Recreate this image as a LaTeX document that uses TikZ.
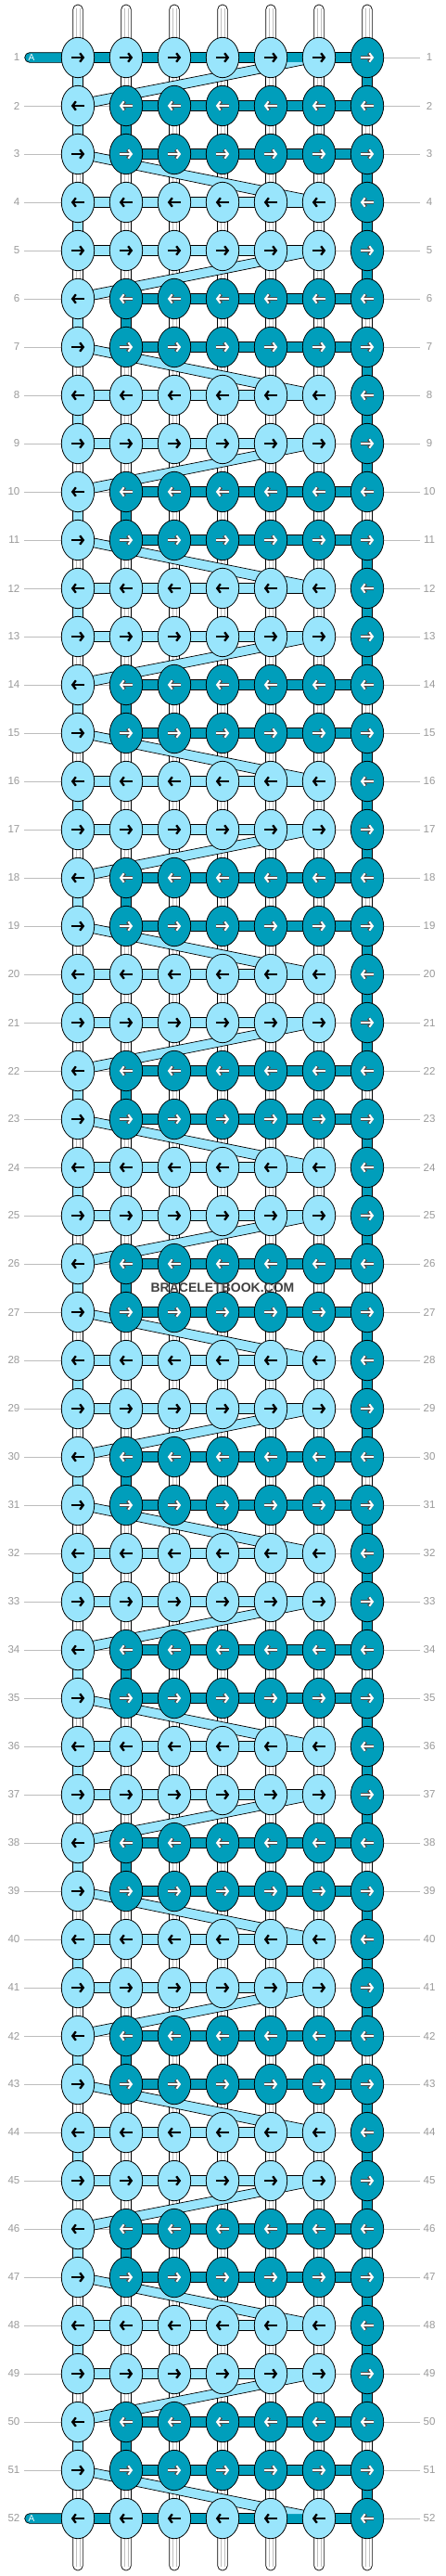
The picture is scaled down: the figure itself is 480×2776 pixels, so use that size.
\documentclass[tikz,border=0pt]{standalone}
\usepackage{fontspec}
\setmainfont{Liberation Sans}
\usetikzlibrary{shapes.geometric,arrows.meta}
\definecolor{lb}{HTML}{99E5FC}
\definecolor{db}{HTML}{009EBB}
\definecolor{labgray}{HTML}{9A9A9A}
\definecolor{linegray}{HTML}{BDBDBD}
\newcommand\tubeseg[3]{%
  \draw[tubeout] (#1-5.35,#2) rectangle (#1+5.35,#3);
  \draw[tubein] (#1-1.8,#2) -- (#1-1.8,#3) (#1+1.8,#2) -- (#1+1.8,#3);}
\newcommand\fillseg[4]{%
  \draw[fill=#4, draw=black, line width=0.7pt] (#1-5.35,#2) rectangle (#1+5.35,#3);}
\begin{document}
\begin{tikzpicture}[x=1pt,y=-1pt,
  knotL/.style={ellipse, draw=black, line width=0.8pt, fill=lb, minimum width=35.4pt, minimum height=43.4pt, inner sep=0pt},
  knotD/.style={knotL, fill=db},
  tubeout/.style={fill=white, draw=black, line width=0.7pt},
  tubein/.style={draw=black!25, line width=0.6pt},
  rowline/.style={draw=linegray, line width=0.8pt},
  hseg/.style={draw=black, line width=0.7pt},
  bandline/.style={draw=black, line width=0.7pt},
  arrB/.style={draw=black, line width=2.3pt, -{Straight Barb[length=3.6pt,width=9.5pt]}},
  arrO/.style={draw=black!70, line width=3.4pt, -{Straight Barb[length=3.6pt,width=9.5pt]}},
  arrW/.style={draw=white, line width=2.0pt, -{Straight Barb[length=3.6pt,width=9.5pt]}},
  lab/.style={text=labgray, font=\fontsize{11.5}{12}\selectfont, inner sep=0pt}
]
\path[fill=white, use as bounding box] (0,0) rectangle (480,2776);

% row lines and labels
\foreach \r in {1,...,52}{
  \pgfmathsetmacro\y{62+(\r-1)*52}
  \node[lab, anchor=east] (ll\r) at (21.5,\y) {\r};
  \node[lab] (lr\r) at (463,\y) {\r};
  \draw[rowline] (26.3,\y) -- (453.3,\y);
}

% top and bottom threads
\foreach \c in {1,...,7}{
  \pgfmathsetmacro\x{84+(\c-1)*52}
  \draw[tubeout, rounded corners=5.3pt] (\x-5.35,50) -- (\x-5.35,5) -- (\x+5.35,5) -- (\x+5.35,50) -- cycle;
  \draw[tubein] (\x-1.8,9) -- (\x-1.8,50) (\x+1.8,9) -- (\x+1.8,50);
  \draw[tubeout, rounded corners=5.3pt] (\x-5.35,2700) -- (\x-5.35,2770) -- (\x+5.35,2770) -- (\x+5.35,2700) -- cycle;
  \draw[tubein] (\x-1.8,2700) -- (\x-1.8,2766) (\x+1.8,2700) -- (\x+1.8,2766);
}

% vertical segments between rows
\foreach \r in {1,...,51}{
  \pgfmathsetmacro\y{62+(\r-1)*52}
  \pgfmathtruncatemacro\t{mod(\r,4)}
  \foreach \c in {1,...,7}{
    \pgfmathsetmacro\x{84+(\c-1)*52}
    \pgfmathtruncatemacro\vt{(\t==1)*((\c==7)*2+(\c==1)*(\r==1)) + (\t==2)*((\c==1)+(\c==2)*2) + (\t==3)*(\c==7)*2 + (\t==0)*((\c==1)+(\c==7)*2)}
    \ifcase\vt \tubeseg{\x}{\y+15}{\y+37}\or \fillseg{\x}{\y+15}{\y+37}{lb}\or \fillseg{\x}{\y+15}{\y+37}{db}\fi
  }
}

% horizontal segments
\foreach \r in {1,...,52}{
  \pgfmathsetmacro\y{62+(\r-1)*52}
  \pgfmathtruncatemacro\t{mod(\r,4)}
  \pgfmathtruncatemacro\e{max(\r==1,\r==52)}
  \foreach \c in {1,...,6}{
    \pgfmathsetmacro\x{84+(\c-1)*52}
    \pgfmathtruncatemacro\ht{\e*2 + (1-\e)*( max(\t==1,\t==0)*(\c<6) + max(\t==2,\t==3)*(\c>1)*2 )}
    \ifcase\ht\or \draw[hseg, fill=lb] (\x+10,\y-5.35) rectangle (\x+42,\y+5.35);\or \draw[hseg, fill=db] (\x+10,\y-5.35) rectangle (\x+42,\y+5.35);\fi
  }
}

% diagonal bands
\foreach \r in {1,...,51}{
  \pgfmathsetmacro\y{62+(\r-1)*52}
  \pgfmathsetmacro\Y{\y+52}
  \pgfmathtruncatemacro\t{mod(\r,4)}
  \ifnum\t=1
    \fill[lb] (92,\Y-8.1) -- (282,\y+6.8) -- (292,\y+5) -- (344,\y+5) -- (334,\y+6.5) -- (92,\Y+2.9) -- cycle;
    \draw[bandline] (92,\Y-8.1) -- (282,\y+6.8) (92,\Y+2.9) -- (334,\y+6.5);
  \fi
  \ifnum\t=3
    \fill[lb] (92,\y-3.9) -- (334,\Y-7.6) -- (344,\Y-5) -- (292,\Y-5) -- (282,\Y-6.8) -- (92,\y+6) -- cycle;
    \draw[bandline] (92,\y-3.9) -- (334,\Y-7.6) (92,\y+6) -- (282,\Y-6.8);
  \fi
}

% A thread stubs
\draw[fill=db, line width=0.7pt, rounded corners=5.3pt] (75,56.65) -- (26.7,56.65) -- (26.7,67.35) -- (75,67.35) -- cycle;
\node[text=white, font=\fontsize{10}{10}\selectfont, anchor=west, inner sep=0pt] (A1) at (30.5,62) {A};
\draw[fill=db, line width=0.7pt, rounded corners=5.3pt] (75,2708.65) -- (26.7,2708.65) -- (26.7,2719.35) -- (75,2719.35) -- cycle;
\node[text=white, font=\fontsize{10}{10}\selectfont, anchor=west, inner sep=0pt] (A52) at (30.5,2714) {A};

% knots
\foreach \r in {1,...,52}{
  \pgfmathsetmacro\y{62+(\r-1)*52}
  \pgfmathtruncatemacro\t{mod(\r,4)}
  \pgfmathtruncatemacro\odd{mod(\r,2)}
  \foreach \c in {1,...,7}{
    \pgfmathsetmacro\x{84+(\c-1)*52}
    \pgfmathsetmacro\xa{\x-7.2+14.4*(1-\odd)}
    \pgfmathsetmacro\xb{\x+7.2-14.4*(1-\odd)}
    \pgfmathtruncatemacro\dk{max(\t==1,\t==0)*(\c==7) + max(\t==2,\t==3)*(\c>1)}
    \ifnum\dk=1
      \node[knotD] (k\r-\c) at (\x,\y) {};
      \draw[arrO] (\xa,\y) -- (\xb,\y);
      \draw[arrW] (\xa,\y) -- (\xb,\y);
    \else
      \node[knotL] (k\r-\c) at (\x,\y) {};
      \draw[arrB] (\xa,\y) -- (\xb,\y);
    \fi
  }
}

% watermark
\node[text=black!75, font=\bfseries\fontsize{14}{14}\selectfont, inner sep=0pt] (wm) at (240,1388) {BRACELETBOOK.COM};
\end{tikzpicture}
\end{document}
